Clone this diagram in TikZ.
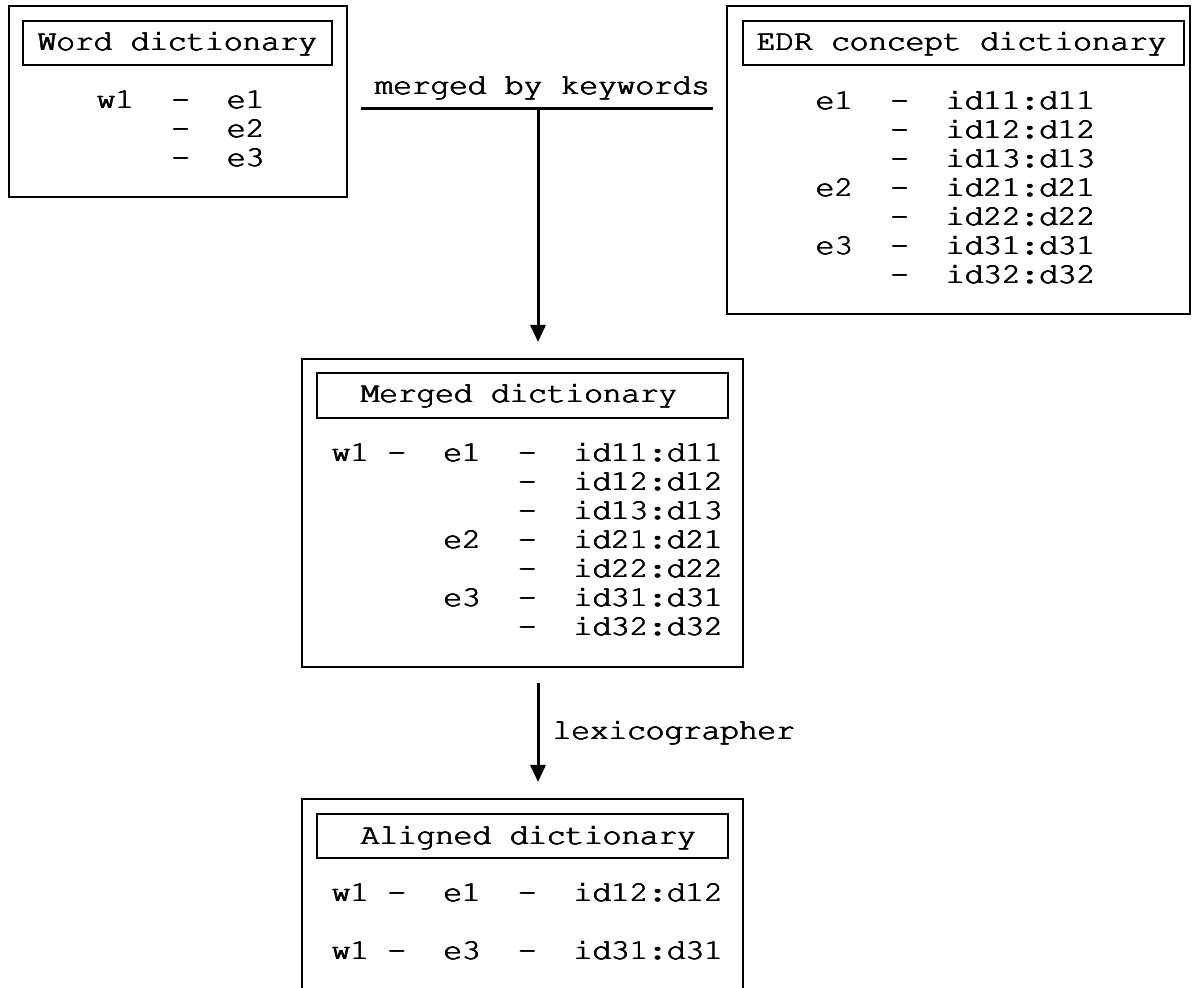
\documentclass[tikz,border=0pt]{standalone}
\usepackage[T1]{fontenc}
\usepackage{courier}
\usepackage{graphicx}
\usetikzlibrary{arrows.meta,fit}
\newcommand\thk[1]{\rlap{#1}\rlap{\raisebox{0.35pt}{#1}}\rlap{\hspace{0.45pt}#1}\hspace{0.45pt}\raisebox{0.35pt}{#1}}
\newcommand\cx[1]{\scalebox{1.07}[1]{\thk{#1}}}
\tikzset{
  box/.style={draw, line width=1pt, inner sep=0pt},
  txt/.style={inner sep=0pt, anchor=base west, font=\ttfamily\fontsize{14.5}{15}\selectfont},
  arr/.style={line width=1.5pt, -{Triangle[length=8.5pt,width=7.5pt]}},
  bar/.style={line width=1.5pt},
}
\begin{document}
\begin{tikzpicture}[x=0.5pt,y=-0.5pt]
\clip (0,0) rectangle (1196,988);
\fill[white] (0,0) rectangle (1196,988);

% Word dictionary
\node[box, fit={(9,6)(347,197)}] (word) {};
\node[box, fit={(23,21)(332,65)}] (wordT) {};
\node[txt] (wordTt) at (37,51) {\cx{Word dictionary}};
\node[txt] (w1) at (96,109) {\cx{w1~~-~~e1}};
\node[txt] (w2) at (96,138) {\cx{~~~~-~~e2}};
\node[txt] (w3) at (96,167) {\cx{~~~~-~~e3}};

% EDR concept dictionary
\node[box, fit={(727,6)(1190,314)}] (edr) {};
\node[box, fit={(743,21)(1184,65)}] (edrT) {};
\node[txt] (edrTt) at (756,51) {\cx{EDR concept dictionary}};
\node[txt] (e1) at (815,110) {\cx{e1~~-~~id11:d11}};
\node[txt] (e2) at (815,139) {\cx{~~~~-~~id12:d12}};
\node[txt] (e3) at (815,168) {\cx{~~~~-~~id13:d13}};
\node[txt] (e4) at (815,197) {\cx{e2~~-~~id21:d21}};
\node[txt] (e5) at (815,226) {\cx{~~~~-~~id22:d22}};
\node[txt] (e6) at (815,255) {\cx{e3~~-~~id31:d31}};
\node[txt] (e7) at (815,284) {\cx{~~~~-~~id32:d32}};

% Merged dictionary
\node[box, fit={(302,359)(743,667)}] (merged) {};
\node[box, fit={(317,373)(728,418)}] (mergedT) {};
\node[txt] (mergedTt) at (360,403) {\cx{Merged dictionary}};
\node[txt] (m1) at (331,462) {\cx{w1~-~~e1~~-~~id11:d11}};
\node[txt] (m2) at (331,491) {\cx{~~~~~~~~~~-~~id12:d12}};
\node[txt] (m3) at (331,520) {\cx{~~~~~~~~~~-~~id13:d13}};
\node[txt] (m4) at (331,549) {\cx{~~~~~~e2~~-~~id21:d21}};
\node[txt] (m5) at (331,578) {\cx{~~~~~~~~~~-~~id22:d22}};
\node[txt] (m6) at (331,607) {\cx{~~~~~~e3~~-~~id31:d31}};
\node[txt] (m7) at (331,636) {\cx{~~~~~~~~~~-~~id32:d32}};

% Aligned dictionary
\node[box, fit={(302,799)(743,1010)}] (aligned) {};
\node[box, fit={(317,814)(728,858)}] (alignedT) {};
\node[txt] (alignedTt) at (360,845) {\cx{Aligned dictionary}};
\node[txt] (a1) at (331,902) {\cx{w1~-~~e1~~-~~id12:d12}};
\node[txt] (a2) at (331,960) {\cx{w1~-~~e3~~-~~id31:d31}};

% merge connector
\coordinate (kwL) at (361,109);
\coordinate (kwR) at (713,109);
\coordinate (kwM) at (538,109);
\draw[bar] (kwL) -- (kwR);
\node[txt] (kwlab) at (374,95) {\cx{merged by keywords}};
\draw[arr, shorten >=8pt] (kwM) -- (merged.north -| kwM);

% lexicographer connector
\draw[arr, shorten <=7.5pt, shorten >=8pt] (merged.south -| kwM) -- (aligned.north -| kwM);
\node[txt] (lexlab) at (552,740) {\cx{lexicographer}};
\end{tikzpicture}
\end{document}
